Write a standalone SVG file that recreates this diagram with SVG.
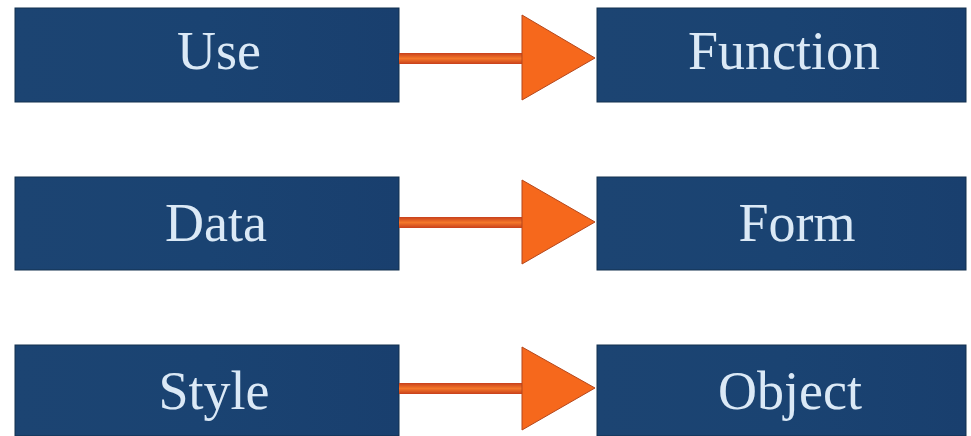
<svg xmlns="http://www.w3.org/2000/svg" width="971" height="436" viewBox="0 0 971 436">
<defs>
<linearGradient id="box" x1="0" y1="0" x2="1" y2="0">
<stop offset="0" stop-color="#1c4472"/>
<stop offset="0.5" stop-color="#1a4372"/>
<stop offset="1" stop-color="#193f6e"/>
</linearGradient>
<linearGradient id="shaft" x1="0" y1="0" x2="0" y2="1">
<stop offset="0" stop-color="#c8401c"/>
<stop offset="0.5" stop-color="#f4772a"/>
<stop offset="1" stop-color="#c8401c"/>
</linearGradient>
</defs>
<style>
.box{fill:url(#box);stroke:#12304f;stroke-width:1}
.lbl{font-family:"Liberation Serif","Times New Roman",serif;font-size:54px;fill:#dbe9f6;text-anchor:middle}
.shaft{fill:url(#shaft)}
.head{fill:#f6681c;stroke:#b5471c;stroke-width:1}
</style>
<rect width="971" height="436" fill="#ffffff"/>
<g id="use"><rect class="box" x="15" y="8" width="384" height="94"/><text class="lbl" x="219" y="69">Use</text></g>
<g id="function"><rect class="box" x="597" y="8" width="369" height="94"/><text class="lbl" x="784" y="69">Function</text></g>
<g id="data"><rect class="box" x="15" y="177" width="384" height="93"/><text class="lbl" x="216" y="241">Data</text></g>
<g id="form"><rect class="box" x="597" y="177" width="369" height="93"/><text class="lbl" x="797" y="241">Form</text></g>
<g id="style"><rect class="box" x="15" y="345" width="384" height="91"/><text class="lbl" x="214" y="409">Style</text></g>
<g id="object"><rect class="box" x="597" y="345" width="369" height="91"/><text class="lbl" x="790" y="409">Object</text></g>
<g id="connectors">
<rect class="shaft" x="399" y="53" width="124" height="11"/>
<polygon class="head" points="522,15 522,100 595,58"/>
<rect class="shaft" x="399" y="217" width="124" height="11"/>
<polygon class="head" points="522,180 522,264 595,222"/>
<rect class="shaft" x="399" y="383" width="124" height="11"/>
<polygon class="head" points="522,347 522,430 595,388"/>
</g>
</svg>
